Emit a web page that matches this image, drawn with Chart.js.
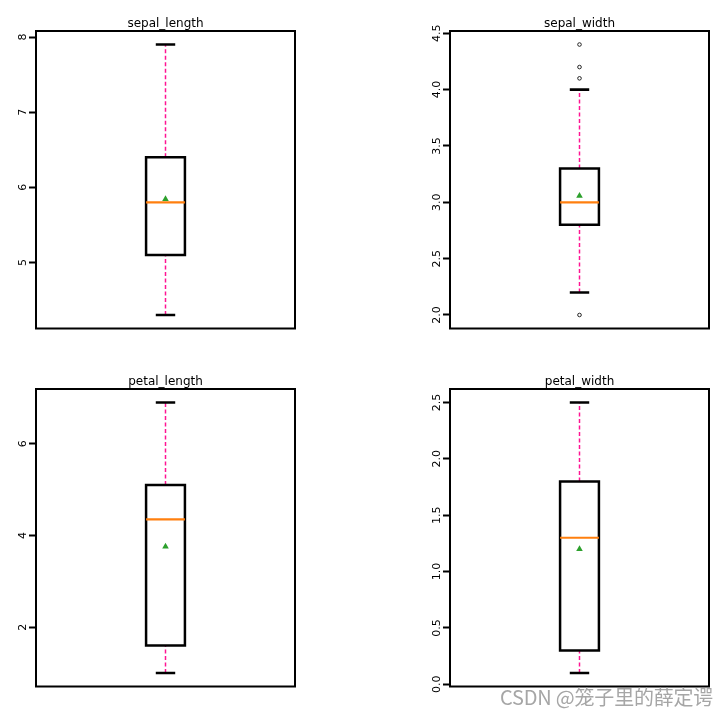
<!DOCTYPE html>
<html>
<head>
<meta charset="utf-8">
<script src="https://cdn.jsdelivr.net/npm/chart.js@4.4.1/dist/chart.umd.min.js"></script>
<style>
  html, body { margin: 0; padding: 0; background: #fff; }
  #wrap { position: relative; width: 727px; height: 714px; overflow: hidden; background: #fff; }
  canvas { position: absolute; }
  #wm { position: absolute; left: 500px; top: 682px; font: 20px "Noto Sans CJK SC", "Liberation Sans", sans-serif;
        color: #a6a6a6; white-space: nowrap; letter-spacing: -0.2px; z-index: 5; }
</style>
</head>
<body>
<div id="wrap">
  <canvas id="c0" width="310" height="340" style="left:0px;top:0px"></canvas>
  <canvas id="c1" width="310" height="340" style="left:414px;top:0px"></canvas>
  <canvas id="c2" width="310" height="340" style="left:0px;top:358px"></canvas>
  <canvas id="c3" width="310" height="340" style="left:414px;top:358px"></canvas>
  <div id="wm">CSDN @笼子里的薛定谔</div>
</div>
<script>
// ---- data (iris box-plot statistics) ----
const features    = ['sepal_length', 'sepal_width', 'petal_length', 'petal_width'];
const whiskerLow  = [4.3, 2.2, 1.0, 0.1];
const q1          = [5.1, 2.8, 1.6, 0.3];
const median      = [5.8, 3.0, 4.35, 1.3];
const q3          = [6.4, 3.3, 5.1, 1.8];
const whiskerHigh = [7.9, 4.0, 6.9, 2.5];
const means       = [5.843, 3.057, 3.758, 1.199];
const outliers    = [[], [4.4, 4.2, 4.1, 2.0], [], []];
const tickValues  = [[5, 6, 7, 8], [2.0, 2.5, 3.0, 3.5, 4.0, 4.5], [2, 4, 6], [0.0, 0.5, 1.0, 1.5, 2.0, 2.5]];
const tickDecimals = [0, 1, 0, 1];

// ---- styling / layout constants ----
const POS = 1;            // box position on x axis
const BOX_HALF = 0.075;   // half box width (x units)
const CAP_HALF = 0.0375;  // half cap width (x units)
const padRight = [15, 15, 15, 15];

const framePlugin = {
  id: 'frameAndLabels',
  afterDraw(chart, args, opts) {
    const { ctx, chartArea: a } = chart;
    const ys = chart.scales.y;
    ctx.save();
    // full frame
    ctx.strokeStyle = '#000';
    ctx.lineWidth = 2;
    ctx.strokeRect(a.left, a.top, a.right - a.left, a.bottom - a.top);
    // title
    ctx.fillStyle = '#000';
    ctx.font = '12px "DejaVu Sans"';
    ctx.textAlign = 'center';
    ctx.textBaseline = 'alphabetic';
    ctx.fillText(opts.title, (a.left + a.right) / 2, a.top - 4.5);
    // rotated y tick labels
    ctx.font = '11px "DejaVu Sans"';
    ys.ticks.forEach(t => {
      const y = ys.getPixelForValue(t.value);
      ctx.save();
      ctx.translate(a.left - 10.5, y);
      ctx.rotate(-Math.PI / 2);
      ctx.fillText(Number(t.value).toFixed(opts.decimals), 0, 0);
      ctx.restore();
    });
    ctx.restore();
  }
};

function seg(x1, y1, x2, y2) { return [{ x: x1, y: y1 }, { x: x2, y: y2 }]; }

features.forEach((name, i) => {
  const lo = Math.min(whiskerLow[i], ...outliers[i]);
  const hi = Math.max(whiskerHigh[i], ...outliers[i]);
  const span = hi - lo;
  const datasets = [
    { // lower whisker
      data: seg(POS, whiskerLow[i], POS, q1[i]), showLine: true, borderColor: '#ff1493',
      borderWidth: 1.5, borderDash: [4, 2.5], pointRadius: 0, order: 5
    },
    { // upper whisker
      data: seg(POS, q3[i], POS, whiskerHigh[i]), showLine: true, borderColor: '#ff1493',
      borderWidth: 1.5, borderDash: [4, 2.5], pointRadius: 0, order: 5
    },
    { // lower cap
      data: seg(POS - CAP_HALF, whiskerLow[i], POS + CAP_HALF, whiskerLow[i]), showLine: true,
      borderColor: '#000', borderWidth: 2.6, pointRadius: 0, order: 4
    },
    { // upper cap
      data: seg(POS - CAP_HALF, whiskerHigh[i], POS + CAP_HALF, whiskerHigh[i]), showLine: true,
      borderColor: '#000', borderWidth: 2.6, pointRadius: 0, order: 4
    },
    { // box (path goes once round plus one extra edge so every corner is mitred)
      data: [
        { x: POS - BOX_HALF, y: q1[i] }, { x: POS + BOX_HALF, y: q1[i] },
        { x: POS + BOX_HALF, y: q3[i] }, { x: POS - BOX_HALF, y: q3[i] },
        { x: POS - BOX_HALF, y: q1[i] }, { x: POS + BOX_HALF, y: q1[i] }
      ],
      showLine: true, borderColor: '#000', borderWidth: 2.5, borderJoinStyle: 'miter',
      pointRadius: 0, order: 3
    },
    { // median
      data: seg(POS - BOX_HALF, median[i], POS + BOX_HALF, median[i]), showLine: true,
      borderColor: '#ff7f0e', borderWidth: 2.2, pointRadius: 0, order: 2
    },
    { // mean
      data: [{ x: POS, y: means[i] }], showLine: false, pointStyle: 'triangle',
      pointRadius: 3.8, backgroundColor: '#2ca02c', borderColor: '#2ca02c', borderWidth: 0, order: 1
    },
    { // outliers
      data: outliers[i].map(v => ({ x: POS, y: v })), showLine: false, pointStyle: 'circle',
      pointRadius: 1.8, backgroundColor: 'rgba(0,0,0,0)', borderColor: '#222', borderWidth: 1, order: 0
    }
  ];

  new Chart(document.getElementById('c' + i), {
    type: 'scatter',
    data: { datasets },
    options: {
      responsive: false,
      animation: false,
      devicePixelRatio: 1,
      layout: { padding: { top: 31, bottom: 11.5, left: 0, right: padRight[i] } },
      plugins: {
        legend: { display: false },
        tooltip: { enabled: false },
        title: { display: false },
        frameAndLabels: { title: name, decimals: tickDecimals[i] }
      },
      elements: { line: { tension: 0 } },
      scales: {
        x: { type: 'linear', min: 0.5, max: 1.5, display: false },
        y: {
          type: 'linear',
          min: lo - 0.05 * span,
          max: hi + 0.05 * span,
          afterBuildTicks: s => { s.ticks = tickValues[i].map(v => ({ value: v })); },
          afterFit: s => { s.width = 36; },
          ticks: { display: false },
          border: { display: false },
          grid: {
            display: true, drawOnChartArea: false, drawTicks: true,
            tickLength: 7, tickWidth: 2, tickColor: '#000'
          }
        }
      }
    },
    plugins: [framePlugin]
  });
});
</script>
</body>
</html>
